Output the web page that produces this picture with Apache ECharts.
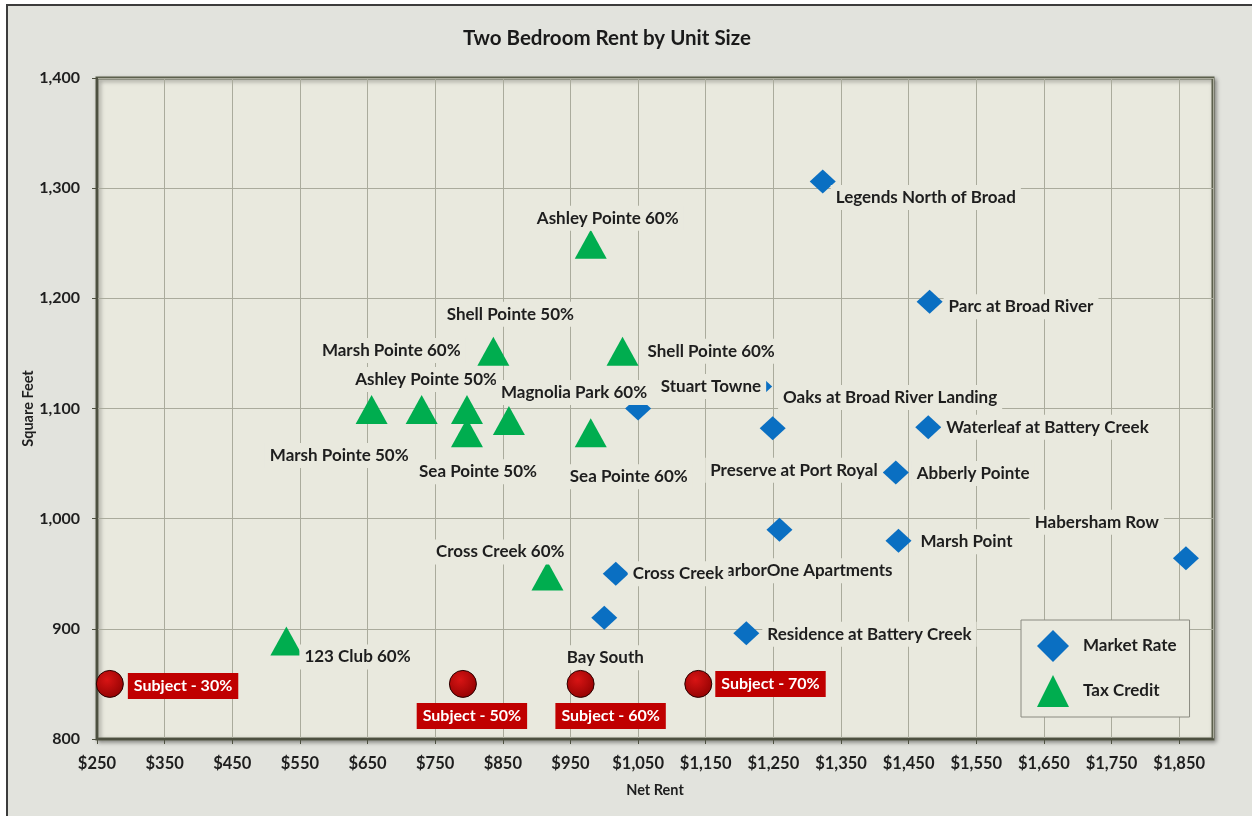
<!DOCTYPE html>
<html>
<head>
<meta charset="utf-8">
<title>Two Bedroom Rent by Unit Size</title>
<script src="https://cdn.jsdelivr.net/npm/echarts@6/dist/echarts.min.js"></script>
<style>
  html, body { margin: 0; padding: 0; background: #ffffff; }
  #chart { width: 1252px; height: 816px; }
</style>
</head>
<body>
<div id="chart"></div>
<script>
// market rate comparables
const marketNames = [
    'Legends North of Broad', 'Parc at Broad River', 'Stuart Towne', 'Oaks at Broad River Landing',
    'Waterleaf at Battery Creek', 'Preserve at Port Royal', 'Abberly Pointe', 'HarborOne Apartments',
    'Marsh Point', 'Habersham Row', 'Cross Creek', 'Bay South', 'Residence at Battery Creek'
];
const marketRent = [1323, 1481, 1229, 1050, 1479, 1249, 1431, 1259, 1435, 1860, 1017, 1000, 1210];
const marketSqft = [1306, 1197, 1120, 1100, 1083, 1082, 1042, 990, 980, 964, 950, 910, 896];

// tax credit comparables
const taxNames = [
    'Ashley Pointe 60%', 'Shell Pointe 50%', 'Shell Pointe 60%', 'Marsh Pointe 60%',
    'Ashley Pointe 50%', 'Magnolia Park 60%', 'Marsh Pointe 50%', 'Sea Pointe 50%',
    'Sea Pointe 60%', 'Cross Creek 60%', '123 Club 60%'
];
const taxRent = [980, 836, 1027, 730, 797, 859, 656, 797, 980, 916, 530];
const taxSqft = [1249, 1152, 1152, 1099, 1099, 1089, 1099, 1078, 1078, 948, 889];

// subject property
const subjectNames = ['Subject - 30%', 'Subject - 50%', 'Subject - 60%', 'Subject - 70%'];
const subjectRent = [269, 791, 965, 1139];
const subjectSqft = [850, 850, 850, 850];

// axis scale
const rentMin = 250, rentMax = 1900, rentStep = 100;
const sqftMin = 800, sqftMax = 1400, sqftStep = 100;

const plotBg = '#e9e9de';
const fontFamily = 'Lato, "Open Sans", sans-serif';

// where each label sits next to its marker: [align, dx, dy]
const labelPlacement = {
    'Legends North of Broad': ['left', 8, 16],
    'Parc at Broad River': ['left', 14, 5],
    'Stuart Towne': ['right', 7, 0],
    'Oaks at Broad River Landing': ['left', 140, -11],
    'Waterleaf at Battery Creek': ['left', 13, 0],
    'Preserve at Port Royal': ['right', 110, 42],
    'Abberly Pointe': ['left', 16, 1],
    'HarborOne Apartments': ['right', 118, 41],
    'Marsh Point': ['left', 17, 1],
    'Habersham Row': ['right', -22, -36],
    'Cross Creek': ['left', 12, 0],
    'Bay South': ['center', 1, 40],
    'Residence at Battery Creek': ['left', 16, 1],
    'Ashley Pointe 60%': ['center', 17, -26],
    'Shell Pointe 50%': ['center', 17, -37],
    'Shell Pointe 60%': ['left', 20, 0],
    'Marsh Pointe 60%': ['right', 44, -59],
    'Ashley Pointe 50%': ['right', 35, -30],
    'Magnolia Park 60%': ['left', -13, -28],
    'Marsh Pointe 50%': ['right', 42, 46],
    'Sea Pointe 50%': ['center', 11, 39],
    'Sea Pointe 60%': ['center', 38, 44],
    'Cross Creek 60%': ['right', 22, -24],
    '123 Club 60%': ['left', 13, 16],
    'Subject - 30%': ['left', 18, 2],
    'Subject - 50%': ['center', 9, 32],
    'Subject - 60%': ['center', 30, 32],
    'Subject - 70%': ['left', 17, 0]
};

function buildItems(names, rents, sqft) {
    return names.map((name, i) => {
        const p = labelPlacement[name] || ['center', 0, 0];
        return {
            name: name,
            value: [rents[i], sqft[i]],
            label: { align: p[0], offset: [p[1], p[2]] }
        };
    });
}

const pointLabel = {
    show: true,
    position: 'inside',
    verticalAlign: 'middle',
    formatter: '{b}',
    color: '#1e1e1e',
    fontSize: 17,
    lineHeight: 17,
    fontWeight: 'bold',
    fontFamily: fontFamily,
    backgroundColor: plotBg,
    padding: [4, 5]
};

const chart = echarts.init(document.getElementById('chart'));

chart.setOption({
    backgroundColor: '#ffffff',
    animation: false,
    graphic: [{
        type: 'rect',
        z: -100,
        shape: { x: 7, y: 5, width: 1300, height: 900 },
        style: { fill: '#e2e3dd', stroke: '#3c3c3c', lineWidth: 2 }
    }],
    title: {
        text: 'Two Bedroom Rent by Unit Size',
        left: 602,
        top: 23,
        textAlign: 'center',
        textStyle: { color: '#1a1a1a', fontSize: 20.5, fontWeight: 'bold', fontFamily: fontFamily }
    },
    grid: {
        left: 97,
        top: 78,
        right: 39,
        bottom: 77,
        show: true,
        backgroundColor: plotBg,
        borderColor: '#5c604c',
        borderWidth: 3,
        shadowColor: 'rgba(0,0,0,0.35)',
        shadowBlur: 4,
        shadowOffsetX: 2,
        shadowOffsetY: 2
    },
    legend: {
        orient: 'vertical',
        left: 1021,
        top: 620,
        padding: [10, 13, 10, 16],
        itemWidth: 32,
        itemHeight: 32,
        itemGap: 13,
        backgroundColor: plotBg,
        borderColor: '#8a8a80',
        borderWidth: 1,
        textStyle: {
            color: '#1e1e1e', fontSize: 17, fontWeight: 'bold', fontFamily: fontFamily,
            padding: [0, 0, 0, 9]
        },
        data: [
            { name: 'Market Rate', icon: 'diamond' },
            { name: 'Tax Credit', icon: 'triangle' }
        ]
    },
    xAxis: {
        type: 'value',
        min: rentMin,
        max: rentMax,
        interval: rentStep,
        name: 'Net Rent',
        nameLocation: 'middle',
        nameGap: 44,
        nameMoveOverlap: false,
        nameTextStyle: { color: '#1e1e1e', fontSize: 14.5, fontWeight: 'bold', fontFamily: fontFamily },
        axisLine: { show: true, lineStyle: { color: '#4d5040', width: 2 } },
        axisTick: { show: true, length: 5, lineStyle: { color: '#4d5040' } },
        axisLabel: {
            margin: 16,
            showMaxLabel: false,
            color: '#1e1e1e', fontSize: 16.5, fontWeight: 'bold', fontFamily: fontFamily,
            formatter: v => '$' + v.toLocaleString('en-US')
        },
        splitLine: { show: true, lineStyle: { color: '#aaab9c', width: 1 } }
    },
    yAxis: {
        type: 'value',
        min: sqftMin,
        max: sqftMax,
        interval: sqftStep,
        name: 'Square Feet',
        nameLocation: 'middle',
        nameGap: 61,
        nameMoveOverlap: false,
        nameTextStyle: { color: '#1e1e1e', fontSize: 14.5, fontWeight: 'bold', fontFamily: fontFamily },
        axisLine: { show: true, lineStyle: { color: '#4d5040', width: 2 } },
        axisTick: { show: true, length: 5, lineStyle: { color: '#4d5040' } },
        axisLabel: {
            margin: 17,
            color: '#1e1e1e', fontSize: 16, fontWeight: 'bold', fontFamily: fontFamily,
            formatter: v => v.toLocaleString('en-US')
        },
        splitLine: { show: true, lineStyle: { color: '#aaab9c', width: 1 } }
    },
    series: [
        {
            name: 'Market Rate',
            type: 'scatter',
            z: 2,
            symbol: 'diamond',
            symbolSize: [26, 24],
            itemStyle: { color: '#0a6fc2', opacity: 1 },
            label: pointLabel,
            data: buildItems(marketNames, marketRent, marketSqft)
        },
        {
            name: 'Tax Credit',
            type: 'scatter',
            z: 3,
            symbol: 'triangle',
            symbolSize: [32, 29],
            itemStyle: { color: '#00ad4f', opacity: 1 },
            label: pointLabel,
            data: buildItems(taxNames, taxRent, taxSqft)
        },
        {
            name: 'Subject',
            type: 'scatter',
            z: 4,
            symbol: 'circle',
            symbolSize: 27,
            itemStyle: {
                color: new echarts.graphic.RadialGradient(0.4, 0.35, 0.75, [
                    { offset: 0, color: '#d81414' },
                    { offset: 1, color: '#8c0000' }
                ]),
                borderColor: '#2a0000',
                borderWidth: 1,
                opacity: 1
            },
            label: Object.assign({}, pointLabel, {
                color: '#ffffff',
                backgroundColor: '#c00000',
                fontSize: 16,
                lineHeight: 18,
                padding: [4, 6]
            }),
            data: buildItems(subjectNames, subjectRent, subjectSqft)
        }
    ]
});
</script>
</body>
</html>
